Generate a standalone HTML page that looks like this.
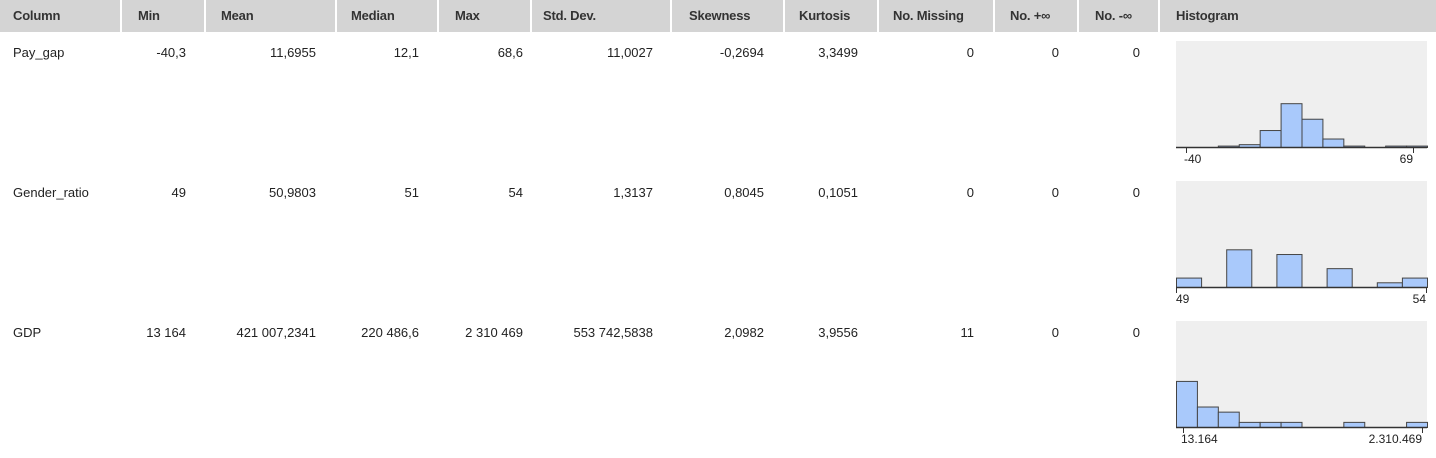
<!DOCTYPE html>
<html><head><meta charset="utf-8">
<style>
body{margin:0;width:1436px;height:458px;background:#fff;overflow:hidden;font-family:"Liberation Sans",sans-serif;color:#222;position:relative}
.hd{position:absolute;top:0;height:32px;background:#d4d4d4;font-weight:bold;font-size:13px;line-height:32px;color:#333;box-sizing:border-box;letter-spacing:-0.2px}
.c{position:absolute;white-space:nowrap;font-family:"Liberation Sans",sans-serif;font-size:13px}
.r{text-align:right}
svg{position:absolute;left:0;top:0}
</style></head><body>
<div id="hdr"></div>
<div id="cells"></div>
<svg id="hist" width="1436" height="458"></svg>
<script>
const headers=["Column","Min","Mean","Median","Max","Std. Dev.","Skewness","Kurtosis","No. Missing","No. +∞","No. -∞","Histogram"];
const colL=[0,122,206,337,439,532,672,785,879,995,1079,1160];
const colR=[120,204,335,437,530,670,783,877,993,1077,1158,1436];
const textX=[13,138,221,351,455,543,689,799,893,1010,1095,1176];
const valRight=[186,316,419,523,653,764,858,974,1059,1140];
const rowNames=["Pay_gap","Gender_ratio","GDP"];
const rowVals=[
 ["-40,3","11,6955","12,1","68,6","11,0027","-0,2694","3,3499","0","0","0"],
 ["49","50,9803","51","54","1,3137","0,8045","0,1051","0","0","0"],
 ["13 164","421 007,2341","220 486,6","2 310 469","553 742,5838","2,0982","3,9556","11","0","0"]];
const payGapCounts=[0,0,1,2,12,31,20,6,1,0,1,1];
const genderCounts=[2,0,8,0,7,0,4,0,1,2];
const gdpCounts=[9,4,3,1,1,1,0,0,1,0,0,1];
const histCounts=[payGapCounts,genderCounts,gdpCounts];
const histYMax=[75,22.5,20.7];
const histMinLabels=["-40","49","13.164"];
const histMaxLabels=["69","54","2.310.469"];

const hdr=document.getElementById('hdr');
headers.forEach((h,i)=>{
 const d=document.createElement('div');
 d.className='hd';
 
 
 d.style.left=colL[i]+'px';d.style.width=(colR[i]-colL[i])+'px';
 d.style.paddingLeft=(textX[i]-colL[i])+'px';
 d.textContent=h;hdr.appendChild(d);
});
const cells=document.getElementById('cells');
rowNames.forEach((n,ri)=>{
 const y=45+ri*140;
 const d=document.createElement('div');d.className='c';
 
 
 d.style.left='13px';d.style.top=y+'px';d.textContent=n;cells.appendChild(d);
 rowVals[ri].forEach((v,ci)=>{
  const e=document.createElement('div');e.className='c r';
  
  
  e.style.right=(1436-valRight[ci])+'px';e.style.top=y+'px';e.textContent=v;cells.appendChild(e);
 });
});
const NS='http://www.w3.org/2000/svg';
const svg=document.getElementById('hist');
function mk(t,a,p){const e=document.createElementNS(NS,t);for(const k in a)e.setAttribute(k,a[k]);(p||svg).appendChild(e);return e;}
const pL=1176,pR=1427;
const tickX=[[1186,1413],[1176,1426],[1183,1422]];
histCounts.forEach((counts,hi)=>{
 const top=41+hi*140, axisY=147+hi*140;
 const g=mk('g',{});
 
 
 const bg=mk('rect',{x:pL,y:top,width:pR-pL,height:axisY-top,fill:'#efefef'},g);
 
 
 const bw=(pR-pL)/counts.length;
 const ys=v=>axisY-v/histYMax[hi]*(axisY-top);
 counts.forEach((c,i)=>{
  if(c<=0)return;
  const b=mk('rect',{x:pL+i*bw+0.5,y:ys(c)+0.5,width:bw,height:axisY-ys(c),fill:'#a9c9fb',stroke:'#444','stroke-width':1},g);
  
  
 });
 mk('line',{x1:pL,x2:pR,y1:axisY+0.5,y2:axisY+0.5,stroke:'#333','stroke-width':1.5},g);
 tickX[hi].forEach(x=>mk('line',{x1:x+0.5,x2:x+0.5,y1:axisY,y2:axisY+6,stroke:'#333'},g));
 const t1=mk('text',{x:hi==1?1176:tickX[hi][0]-2,y:axisY+16,'font-size':12,'font-family':'Liberation Sans, sans-serif',fill:'#222'},g);
 t1.textContent=histMinLabels[hi];
 
 
 const t2=mk('text',{x:hi==1?1426:tickX[hi][1],y:axisY+16,'font-size':12,'font-family':'Liberation Sans, sans-serif',fill:'#222','text-anchor':'end'},g);
 t2.textContent=histMaxLabels[hi];
 
 
});
</script>
</body></html>
